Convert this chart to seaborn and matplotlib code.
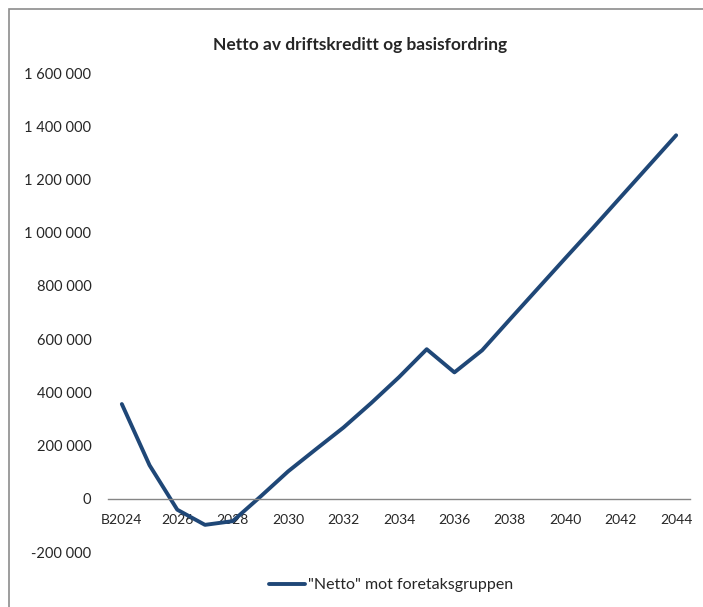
import numpy as np
import pandas as pd
import matplotlib
matplotlib.use("Agg")
import matplotlib.pyplot as plt
from matplotlib.patches import Rectangle
import seaborn as sns

# DATA:
years = ["B2024", "2025", "2026", "2027", "2028", "2029", "2030", "2031", "2032", "2033",
         "2034", "2035", "2036", "2037", "2038", "2039", "2040", "2041", "2042", "2043", "2044"]
netto = [356000, 126000, -41000, -98000, -84000, 8000, 103000, 186000, 268000, 360000,
         457000, 562000, 475000, 558000, 674000, 789000, 904000, 1018000, 1134000, 1250000, 1366000]
yticks = [-200000, 0, 200000, 400000, 600000, 800000, 1000000, 1200000, 1400000, 1600000]
title = "Netto av driftskreditt og basisfordring"
series_name = '"Netto" mot foretaksgruppen'

df = pd.DataFrame({"year": years, "value": netto, "serie": series_name})

sns.set_style("white")
plt.rcParams["font.family"] = ["Lato", "DejaVu Sans"]

fig = plt.figure(figsize=(7.03, 6.07), dpi=100)
ax = fig.add_axes([0.1536, 0.0906, 0.8279, 0.7891])

sns.lineplot(data=df, x="year", y="value", hue="serie", palette=["#1f4777"],
             linewidth=2.8, ax=ax, sort=False)

ax.set_xlim(-0.5, len(years) - 0.5)
ax.set_ylim(yticks[0], yticks[-1])
ax.set_yticks(yticks)
ax.set_yticklabels([f"{v:,}".replace(",", " ") for v in yticks], fontsize=10.5, color="#262626")
ax.set_xticks(range(0, len(years), 2))
ax.set_xticklabels(years[::2], fontsize=10.5, color="#262626")
ax.tick_params(axis="both", length=0)
ax.tick_params(axis="x", pad=11)
ax.tick_params(axis="y", pad=12)
ax.set_xlabel("")
ax.set_ylabel("")

# zero line / axis
for s in ["top", "right", "left"]:
    ax.spines[s].set_visible(False)
ax.spines["bottom"].set_position(("data", 0))
ax.spines["bottom"].set_color("#868686")
ax.spines["bottom"].set_linewidth(1.0)

ax.legend(loc="center", bbox_to_anchor=(0.556, 0.036), bbox_transform=fig.transFigure,
          frameon=False, fontsize=11.5, handlelength=2.3, handletextpad=0.15)

fig.text(0.512, 0.926, title, ha="center", va="center", fontsize=12.5, fontweight="bold")

# chart border
fig.patches.append(Rectangle((8.5 / 703, -0.1), 1.0, 1.1 - 9 / 607, transform=fig.transFigure,
                             fill=False, edgecolor="#8c8c8c", linewidth=1.2))

fig.savefig("out.png", dpi=100)
